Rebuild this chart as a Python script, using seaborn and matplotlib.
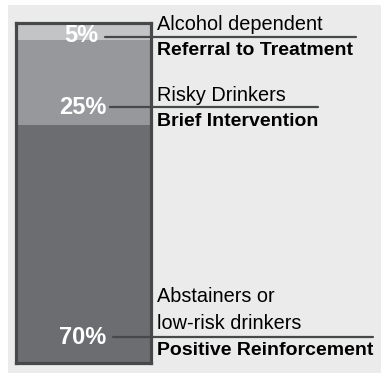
import matplotlib
matplotlib.use("Agg")
import matplotlib.pyplot as plt
import seaborn as sns
import pandas as pd
import numpy as np
from matplotlib.patches import Rectangle
from matplotlib.lines import Line2D

# ---- data ----
groups = ["Alcohol dependent", "Risky Drinkers", "Abstainers or\nlow-risk drinkers"]
actions = ["Referral to Treatment", "Brief Intervention", "Positive Reinforcement"]
shares = [5, 25, 70]
pct_labels = ["5%", "25%", "70%"]

# ---- style ----
seg_colors = ["#c3c4c6", "#97989c", "#6c6d71"]
border = "#47484a"
panel = "#ebebeb"
W, H = 384, 373

sns.set_theme(style="white")
plt.rcParams["font.family"] = ["Liberation Sans", "DejaVu Sans"]

fig = plt.figure(figsize=(W / 100, H / 100), dpi=100)
fig.patch.set_facecolor("white")

def fx(px):
    return px / W

def fy(py):
    return 1 - py / H

# background panel
fig.add_artist(Rectangle((fx(8), fy(373)), fx(381) - fx(8), fy(5) - fy(373),
                         transform=fig.transFigure, facecolor=panel,
                         edgecolor="none", zorder=0))

# bar axes
left, right, top, bottom = 15.5, 150.5, 22.5, 362.5
ax = fig.add_axes([fx(left), fy(bottom), fx(right) - fx(left), fy(top) - fy(bottom)])
ax.set_facecolor("none")

cum = np.cumsum(shares)  # 5, 30, 100
df = pd.DataFrame({"bar": ["all"] * 3, "cum": cum, "grp": groups})
# draw from largest cumulative to smallest so the top segments overlay
for i in reversed(range(len(shares))):
    sns.barplot(data=df.iloc[[i]], x="bar", y="cum", color=seg_colors[i],
                width=1.0, edgecolor="none", linewidth=0, saturation=1,
                ax=ax, zorder=1)

ax.set_ylim(100, 0)
ax.set_xlim(-0.5, 0.5)
ax.set_xticks([])
ax.set_yticks([])
ax.set_xlabel("")
ax.set_ylabel("")
for s in ax.spines.values():
    s.set_visible(True)
    s.set_color(border)
    s.set_linewidth(2.3)
    s.set_zorder(3)

# annotations (pixel layout)
pct_pos = [(98, 36), (106, 108), (106, 338)]
line_pos = [(105, 356, 36.5), (110, 318, 106.5), (113, 373, 337)]
group_pos = [(157, 30), (157, 101), (157, 329)]
action_pos = [(157, 55), (157, 126), (157, 355)]

for i in range(3):
    px, py = pct_pos[i]
    fig.text(fx(px), fy(py), pct_labels[i], ha="right", va="center",
             color="white", fontsize=17, fontweight="bold", zorder=5)
    x0, x1, ly = line_pos[i]
    fig.add_artist(Line2D([fx(x0), fx(x1)], [fy(ly), fy(ly)],
                          transform=fig.transFigure, color=border,
                          linewidth=1.6, zorder=6))
    gx, gy = group_pos[i]
    fig.text(fx(gx), fy(gy), groups[i], ha="left", va="baseline",
             color="black", fontsize=14.3, linespacing=1.5, zorder=5)
    axx, axy = action_pos[i]
    fig.text(fx(axx), fy(axy), actions[i], ha="left", va="baseline",
             color="black", fontsize=14, fontweight="bold", zorder=5)

fig.savefig("out.png", dpi=100, facecolor="white")
